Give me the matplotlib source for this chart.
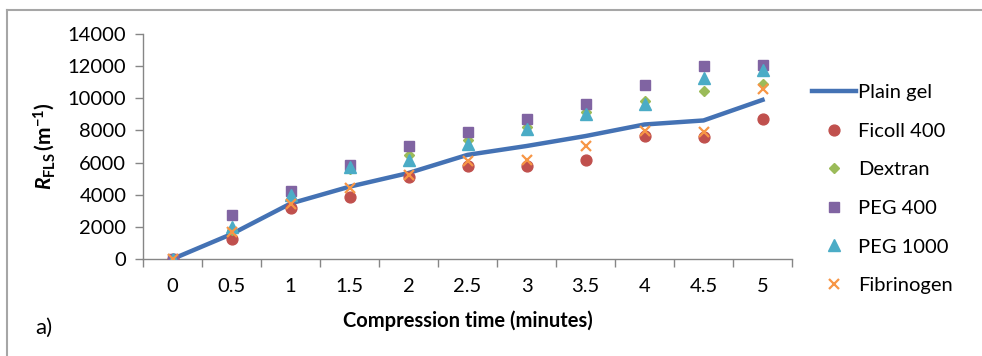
import matplotlib
matplotlib.use("Agg")
import matplotlib.pyplot as plt
from matplotlib.lines import Line2D

plt.rcParams['font.family'] = ['Lato', 'DejaVu Sans']
plt.rcParams['mathtext.fontset'] = 'custom'
plt.rcParams['mathtext.rm'] = 'Lato:bold'
plt.rcParams['mathtext.it'] = 'Lato:bold:italic'
plt.rcParams['mathtext.bf'] = 'Lato:bold'

# Compression times (categories) and resistance values R_FLS (m^-1)
times = ['0', '0.5', '1', '1.5', '2', '2.5', '3', '3.5', '4', '4.5', '5']
plain_gel = [0, 1550, 3450, 4500, 5350, 6480, 7030, 7650, 8370, 8620, 9900]
ficoll_400 = [0, 1250, 3180, 3850, 5130, 5800, 5760, 6180, 7650, 7590, 8700]
dextran = [0, 1800, 4000, 5600, 6500, 7380, 8200, 9150, 9860, 10480, 10900]
peg_400 = [0, 2730, 4220, 5860, 7030, 7880, 8680, 9620, 10850, 11980, 12080]
peg_1000 = [0, 2000, 3960, 5700, 6150, 7180, 8060, 9020, 9640, 11250, 11780]
fibrinogen = [0, 1680, 3450, 4430, 5250, 6070, 6160, 7030, 7960, 7900, 10550]

W, H = 982, 356
fig = plt.figure(figsize=(W / 100, H / 100), dpi=100)
ax = fig.add_axes([143 / W, 1 - 259 / H, (792 - 143) / W, (259 - 34) / H])

x = list(range(len(times)))
ax.plot(x, plain_gel, color='#4472B4', lw=3.2, label='Plain gel', zorder=2,
        solid_joinstyle='round')
ax.plot(x, ficoll_400, ls='none', marker='o', ms=7.8, color='#C0504D',
        label='Ficoll 400', zorder=3)
ax.plot(x, dextran, ls='none', marker='D', ms=5.5, color='#9BBB59',
        label='Dextran', zorder=3)
ax.plot(x, peg_400, ls='none', marker='s', ms=7.8, color='#8064A2',
        label='PEG 400', zorder=3)
ax.plot(x, peg_1000, ls='none', marker='^', ms=8.2, color='#4BACC6',
        label='PEG 1000', zorder=3)
ax.plot(x, fibrinogen, ls='none', marker='x', ms=7, mew=1.6, color='#F79646',
        label='Fibrinogen', zorder=4)

ax.set_xlim(-0.5, len(times) - 0.5)
ax.set_ylim(0, 14000)
ax.set_yticks(range(0, 14001, 2000))
ax.set_xticks(x)
ax.set_xticklabels(times)
ax.set_xticks([i - 0.5 for i in range(len(times) + 1)], minor=True)
ax.tick_params(axis='x', which='major', length=0, pad=14, labelsize=14.5)
ax.tick_params(axis='x', which='minor', length=6, width=1, color='#868686')
ax.tick_params(axis='y', length=6, width=1, color='#868686', labelsize=14.5, pad=6)

for s in ['top', 'right']:
    ax.spines[s].set_visible(False)
for s in ['left', 'bottom']:
    ax.spines[s].set_color('#868686')
    ax.spines[s].set_linewidth(1)

ax.set_xlabel('Compression time (minutes)', fontsize=14.5, fontweight='bold', labelpad=11)
ax.set_ylabel(r'$R_{\mathrm{FLS}}\,\mathrm{(m^{-1})}$', fontsize=15, labelpad=8)

leg = fig.legend(loc='center left', bbox_to_anchor=(804 / W, 1 - 189 / H),
                 frameon=False, fontsize=14.5, handlelength=2.2,
                 handletextpad=0.1, labelspacing=1.07, borderaxespad=0)

fig.text(35 / W, 1 - 328 / H, 'a)', fontsize=16, va='center', ha='left')

# chart frame (top and left edges)
fig.add_artist(Line2D([7 / W, 7 / W], [0, 1 - 10 / H], color='#A6A6A6', lw=1.5,
                      transform=fig.transFigure))
fig.add_artist(Line2D([7 / W, 1], [1 - 10 / H, 1 - 10 / H], color='#A6A6A6', lw=1.5,
                      transform=fig.transFigure))

fig.savefig('out.png', dpi=100)
